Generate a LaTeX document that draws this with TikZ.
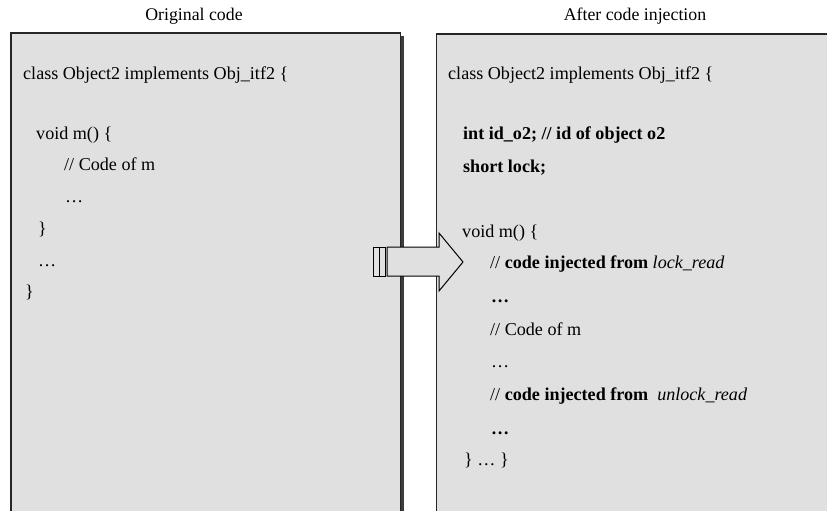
\documentclass[tikz,border=0pt]{standalone}
\usepackage{fontspec}
\setmainfont{Liberation Serif}
\definecolor{boxgray}{RGB}{224,224,224}
\definecolor{shadowgray}{RGB}{60,60,60}
\tikzset{
  codebox/.style={fill=boxgray, draw=black!85, line width=1.2pt},
  boxshadow/.style={fill=shadowgray, draw=none},
  code/.style={anchor=base west, inner sep=0pt, font=\fontsize{18.1}{20}\selectfont},
  title/.style={anchor=base, inner sep=0pt, font=\fontsize{17.8}{20}\selectfont},
  blockarrow/.style={fill=boxgray, draw=black, line width=1pt, line join=miter},
}
\begin{document}
\begin{tikzpicture}[x=1pt,y=-1pt]
\useasboundingbox (0,0) rectangle (827,511);
\clip (0,0) rectangle (827,511);
% boxes
\fill[boxshadow] (14,36) rectangle (404,520);
\draw[codebox] (11,33) rectangle (400.5,520);
\fill[boxshadow] (440,37) rectangle (832,520);
\draw[codebox] (436.5,34) rectangle (828,520);
% titles
\node[title] (t1) at (194,21) {Original code};
\node[title] (t2) at (635,21) {After code injection};
% left code
\node[code] (l1) at (23,79) {class Object2 implements Obj\_itf2 \{};
\node[code] (l2) at (36,139) {void m() \{};
\node[code] (l3) at (64,170) {// Code of m};
\node[code] (l4) at (65,202) {…};
\node[code] (l5) at (38,234) {\}};
\node[code] (l6) at (38,266) {…};
\node[code] (l7) at (25,297) {\}};
% right code
\node[code] (r1) at (448,80) {class Object2 implements Obj\_itf2 \{};
\node[code] (r2) at (463,139) {\textbf{int id\_o2; // id of object o2}};
\node[code] (r3) at (463,172) {\textbf{short lock;}};
\node[code] (r4) at (462,237) {void m() \{};
\node[code] (r5) at (490,268) {// \textbf{code injected from} \textit{lock\_read}};
\node[code] (r6) at (491,302) {\textbf{…}};
\node[code] (r7) at (490,335) {// Code of m};
\node[code] (r8) at (491,367) {…};
\node[code] (r9) at (490,400) {// \textbf{code injected from} \ \textit{unlock\_read}};
\node[code] (r10) at (491,434) {\textbf{…}};
\node[code] (r11) at (464,465) {\} … \}};
% block arrow
\draw[blockarrow] (373,247) rectangle (379,276);
\draw[blockarrow] (379,247) rectangle (385,276);
\draw[blockarrow] (387,247) -- (439,247) -- (439,233) -- (463,262) -- (439,291) -- (439,276) -- (387,276) -- cycle;
\end{tikzpicture}
\end{document}
